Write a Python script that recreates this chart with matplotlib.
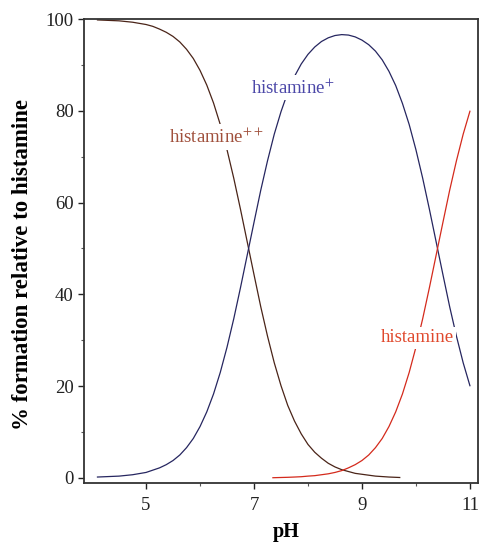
import matplotlib
matplotlib.use("Agg")
import matplotlib.pyplot as plt

# histamine++
ph_acid = [4.1, 4.3, 4.5, 4.75, 5.0, 5.125, 5.25, 5.375, 5.5, 5.625, 5.75, 5.875,
           6.0, 6.125, 6.25, 6.375, 6.5, 6.625, 6.75, 6.875, 7.0, 7.125, 7.25,
           7.375, 7.5, 7.625, 7.75, 7.875, 8.0, 8.125, 8.25, 8.375, 8.5, 8.625,
           8.75, 8.875, 9.0, 9.125, 9.25, 9.375, 9.5, 9.7]
histamine_pp = [99.8, 99.7, 99.6, 99.3, 98.8, 98.4, 97.8, 97.1, 96.2, 95.0, 93.4,
                91.4, 88.8, 85.6, 81.7, 77.0, 71.5, 65.3, 58.5, 51.4, 44.3, 37.3,
                30.9, 25.1, 20.1, 15.8, 12.4, 9.6, 7.3, 5.6, 4.3, 3.2, 2.4, 1.8,
                1.4, 1.0, 0.8, 0.6, 0.4, 0.3, 0.2, 0.1]

# histamine+
ph_mono = [4.1, 4.3, 4.5, 4.75, 5.0, 5.125, 5.25, 5.375, 5.5, 5.625, 5.75, 5.875,
           6.0, 6.125, 6.25, 6.375, 6.5, 6.625, 6.75, 6.875, 7.0, 7.125, 7.25,
           7.375, 7.5, 7.625, 7.75, 7.875, 8.0, 8.125, 8.25, 8.375, 8.5, 8.625,
           8.75, 8.875, 9.0, 9.125, 9.25, 9.375, 9.5, 9.625, 9.75, 9.875, 10.0,
           10.125, 10.25, 10.375, 10.5, 10.625, 10.75, 10.875, 11.0]
histamine_p = [0.2, 0.3, 0.4, 0.7, 1.2, 1.7, 2.2, 2.9, 3.8, 5.0, 6.6, 8.6, 11.2,
               14.4, 18.3, 23.0, 28.5, 34.7, 41.5, 48.6, 55.7, 62.7, 69.1, 74.9,
               79.8, 84.0, 87.5, 90.2, 92.3, 93.9, 95.1, 95.9, 96.4, 96.6, 96.5,
               96.1, 95.4, 94.4, 93.0, 91.1, 88.6, 85.5, 81.6, 77.0, 71.5, 65.3,
               58.5, 51.4, 44.3, 37.3, 30.9, 25.1, 20.1]

# histamine (neutral)
ph_base = [7.35, 7.5, 7.625, 7.75, 7.875, 8.0, 8.125, 8.25, 8.375, 8.5, 8.625,
           8.75, 8.875, 9.0, 9.125, 9.25, 9.375, 9.5, 9.625, 9.75, 9.875, 10.0,
           10.125, 10.25, 10.375, 10.5, 10.625, 10.75, 10.875, 11.0]
histamine_0 = [0.05, 0.1, 0.14, 0.2, 0.27, 0.4, 0.5, 0.7, 0.9, 1.2, 1.6, 2.2, 2.9,
               3.8, 5.0, 6.6, 8.6, 11.2, 14.4, 18.3, 23.0, 28.5, 34.7, 41.5, 48.6,
               55.7, 62.7, 69.1, 74.9, 79.9]

x_ticks = [5, 7, 9, 11]
x_minor = [6, 8, 10]
y_ticks = [0, 20, 40, 60, 80, 100]
y_minor = [10, 30, 50, 70, 90]

plt.rcParams['font.family'] = ['Liberation Serif', 'DejaVu Serif']
plt.rcParams['mathtext.fontset'] = 'stix'

fig = plt.figure(figsize=(4.81, 5.43), dpi=100)
ax = fig.add_axes([0.1746, 0.1105, 0.8192, 0.8545])

ax.plot(ph_acid, histamine_pp, color='#4a2418', lw=0.9, zorder=2)
ax.plot(ph_mono, histamine_p, color='#262660', lw=0.9, zorder=2)
ax.plot(ph_base, histamine_0, color='#d42a1c', lw=0.9, zorder=2)

bb = dict(facecolor='white', edgecolor='none', pad=2)
ax.text(6.3, 74.3, 'histamine$^{++}$', color='#a0503c', fontsize=13.5,
        ha='center', va='center', bbox=bb, zorder=3)
ax.text(7.72, 85.0, 'histamine$^{+}$', color='#4c48a8', fontsize=13.5,
        ha='center', va='center', bbox=bb, zorder=3)
ax.text(10.02, 30.5, 'histamine', color='#e0482c', fontsize=13.5,
        ha='center', va='center', bbox=bb, zorder=3)

ax.set_xlim(3.85, 11.15)
ax.set_ylim(-1.1, 100)
ax.set_xticks(x_ticks)
ax.set_xticks(x_minor, minor=True)
ax.set_yticks(y_ticks)
ax.set_yticks(y_minor, minor=True)
ax.tick_params(axis='both', which='major', direction='out', length=4, width=1,
               labelsize=13.5, colors='#222222')
ax.tick_params(axis='x', which='major', pad=6)
ax.tick_params(axis='both', which='minor', direction='out', length=2.5, width=0.8,
               colors='#555555')
for s in ax.spines.values():
    s.set_linewidth(1.3)
    s.set_color('#333333')

ax.set_xlabel('pH', fontsize=14.5, fontweight='bold')
ax.xaxis.set_label_coords(0.513, -0.084)
ax.set_ylabel('% formation relative to histamine', fontsize=16.5, fontweight='bold')
ax.yaxis.set_label_coords(-0.13, 0.47)

fig.savefig('out.png', dpi=100)
